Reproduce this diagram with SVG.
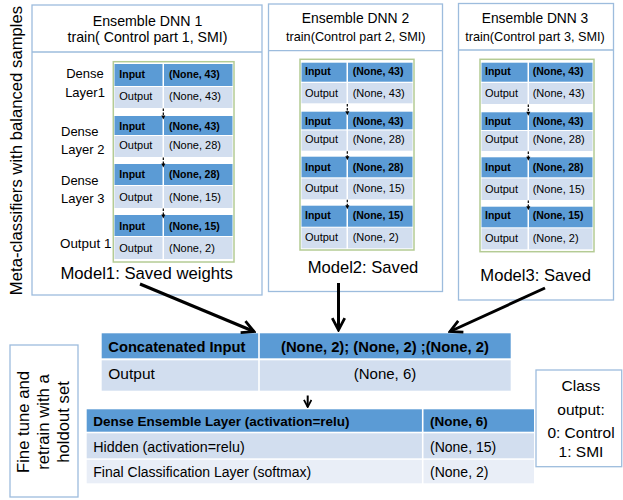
<svg xmlns="http://www.w3.org/2000/svg" width="623" height="500" viewBox="0 0 623 500">
<style>
text{font-family:"Liberation Sans",Arial,sans-serif;fill:#000}
.box{fill:#fff;stroke:#9dbcdd;stroke-width:1.3}
.sep{stroke:#9dbcdd;stroke-width:1.3}
.tb{fill:#fff;stroke:#b4cb94;stroke-width:1.5}
.hi{fill:#5b9bd5}
.lo{fill:#d2deef}
.lo2{fill:#e9eef7}
.sb{font-size:10.5px;font-weight:bold}
.sr{font-size:11px}
.hd{font-size:14.2px;text-anchor:middle}
.hd2{font-size:12.7px;text-anchor:middle}
.lab{font-size:13px}
.mdl{font-size:16.7px;text-anchor:middle}
.vt{font-size:16.7px;text-anchor:middle}
.dash{stroke:#000;stroke-width:1.2;stroke-dasharray:2.5,1.5;fill:none}
.big{stroke:#000;stroke-width:3;fill:none}
</style>
<defs>
<marker id="ah" viewBox="0 0 12 12" refX="10.5" refY="6" markerWidth="15" markerHeight="15" markerUnits="userSpaceOnUse" orient="auto">
<path d="M1,1 L10.5,6 L1,11" fill="none" stroke="#000" stroke-width="2.2"/>
</marker>
<marker id="ahs" viewBox="0 0 12 12" refX="10.5" refY="6" markerWidth="9" markerHeight="9" markerUnits="userSpaceOnUse" orient="auto">
<path d="M1,1 L10.5,6 L1,11" fill="none" stroke="#000" stroke-width="2.4"/>
</marker>
</defs>

<text class="vt" transform="translate(21.5,150.5) rotate(-90)">Meta-classifiers with balanced samples</text>

<g id="dnn1">
<rect class="box" x="32" y="5" width="230" height="290"/>
<line class="sep" x1="32" y1="52" x2="262" y2="52"/>
<text class="hd" x="147.5" y="25.5">Ensemble DNN 1</text>
<text class="hd" x="147.5" y="41.5">train( Control part 1, SMI)</text>
<text class="lab" x="85" y="78" text-anchor="middle">Dense</text>
<text class="lab" x="85" y="97" text-anchor="middle">Layer1</text>
<text class="lab" x="61" y="135.5">Dense</text>
<text class="lab" x="61" y="154">Layer 2</text>
<text class="lab" x="61" y="185">Dense</text>
<text class="lab" x="61" y="203">Layer 3</text>
<text class="lab" x="60" y="247.5" style="font-size:13.4px">Output 1</text>
<rect class="tb" x="113.3" y="61.7" width="120.7" height="200.3"/>
<rect class="hi" x="114.5" y="64" width="48" height="22"/><rect class="hi" x="164" y="64" width="68.5" height="22"/>
<rect class="lo" x="114.5" y="87" width="48" height="21"/><rect class="lo" x="164" y="87" width="68.5" height="21"/>
<rect class="hi" x="114.5" y="116" width="48" height="19"/><rect class="hi" x="164" y="116" width="68.5" height="19"/>
<rect class="lo" x="114.5" y="136" width="48" height="21"/><rect class="lo" x="164" y="136" width="68.5" height="21"/>
<rect class="hi" x="114.5" y="164" width="48" height="21"/><rect class="hi" x="164" y="164" width="68.5" height="21"/>
<rect class="lo" x="114.5" y="186" width="48" height="22"/><rect class="lo" x="164" y="186" width="68.5" height="22"/>
<rect class="hi" x="114.5" y="215" width="48" height="21"/><rect class="hi" x="164" y="215" width="68.5" height="21"/>
<rect class="lo" x="114.5" y="237" width="48" height="22"/><rect class="lo" x="164" y="237" width="68.5" height="22"/>
<text class="sb" x="119.3" y="77.5">Input</text><text class="sb" x="169" y="77.5">(None, 43)</text>
<text class="sr" x="119.3" y="100">Output</text><text class="sr" x="169" y="100">(None, 43)</text>
<text class="sb" x="119.3" y="129.8">Input</text><text class="sb" x="169" y="129.8">(None, 43)</text>
<text class="sr" x="119.3" y="149.3">Output</text><text class="sr" x="169" y="149.3">(None, 28)</text>
<text class="sb" x="119.3" y="177.8">Input</text><text class="sb" x="169" y="177.8">(None, 28)</text>
<text class="sr" x="119.3" y="200.5">Output</text><text class="sr" x="169" y="200.5">(None, 15)</text>
<text class="sb" x="119.3" y="229.5">Input</text><text class="sb" x="169" y="229.5">(None, 15)</text>
<text class="sr" x="119.3" y="252.1">Output</text><text class="sr" x="169" y="252.1">(None, 2)</text>
<text class="mdl" x="146.7" y="279.3">Model1: Saved weights</text>
</g>

<g id="dnn2">
<rect class="box" x="268.5" y="4" width="174" height="287.5"/>
<line class="sep" x1="268.5" y1="50.7" x2="442.5" y2="50.7"/>
<text class="hd" x="355.5" y="23.3" style="font-size:13.9px">Ensemble DNN 2</text>
<text class="hd2" x="355.8" y="40.5">train(Control part 2, SMI)</text>
<rect class="tb" x="300" y="59.3" width="114" height="190.7"/>
<rect class="hi" x="301.5" y="62.7" width="45" height="19"/><rect class="hi" x="348" y="62.7" width="64.5" height="19"/>
<rect class="lo" x="301.5" y="83" width="45" height="20.3"/><rect class="lo" x="348" y="83" width="64.5" height="20.3"/>
<rect class="hi" x="301.5" y="111.7" width="45" height="17.6"/><rect class="hi" x="348" y="111.7" width="64.5" height="17.6"/>
<rect class="lo" x="301.5" y="130.5" width="45" height="20.2"/><rect class="lo" x="348" y="130.5" width="64.5" height="20.2"/>
<rect class="hi" x="301.5" y="156.7" width="45" height="20.6"/><rect class="hi" x="348" y="156.7" width="64.5" height="20.6"/>
<rect class="lo" x="301.5" y="178.5" width="45" height="20.8"/><rect class="lo" x="348" y="178.5" width="64.5" height="20.8"/>
<rect class="hi" x="301.5" y="205.7" width="45" height="21"/><rect class="hi" x="348" y="205.7" width="64.5" height="21"/>
<rect class="lo" x="301.5" y="227.7" width="45" height="20.6"/><rect class="lo" x="348" y="227.7" width="64.5" height="20.6"/>
<text class="sb" x="305" y="74.5">Input</text><text class="sb" x="352.7" y="74.5">(None, 43)</text>
<text class="sr" x="305" y="96.5">Output</text><text class="sr" x="352.7" y="96.5">(None, 43)</text>
<text class="sb" x="305" y="124.5">Input</text><text class="sb" x="352.7" y="124.5">(None, 43)</text>
<text class="sr" x="305" y="143.1">Output</text><text class="sr" x="352.7" y="143.1">(None, 28)</text>
<text class="sb" x="305" y="170.5">Input</text><text class="sb" x="352.7" y="170.5">(None, 28)</text>
<text class="sr" x="305" y="192.1">Output</text><text class="sr" x="352.7" y="192.1">(None, 15)</text>
<text class="sb" x="305" y="218.8">Input</text><text class="sb" x="352.7" y="218.8">(None, 15)</text>
<text class="sr" x="305" y="241.1">Output</text><text class="sr" x="352.7" y="241.1">(None, 2)</text>
<text class="mdl" x="363" y="272.5" style="font-size:16.6px">Model2: Saved</text>
</g>

<g id="dnn3">
<rect class="box" x="458.5" y="3.5" width="155" height="296.5"/>
<line class="sep" x1="458.5" y1="50" x2="613.5" y2="50"/>
<text class="hd" x="535" y="23.3" style="font-size:13.8px">Ensemble DNN 3</text>
<text class="hd2" x="535" y="40.5">train(Control part 3, SMI)</text>
<rect class="tb" x="480" y="59.3" width="114" height="192.4"/>
<rect class="hi" x="481.5" y="62.7" width="46" height="19"/><rect class="hi" x="529" y="62.7" width="63.5" height="19"/>
<rect class="lo" x="481.5" y="83" width="46" height="21"/><rect class="lo" x="529" y="83" width="63.5" height="21"/>
<rect class="hi" x="481.5" y="112.3" width="46" height="17.7"/><rect class="hi" x="529" y="112.3" width="63.5" height="17.7"/>
<rect class="lo" x="481.5" y="131" width="46" height="20"/><rect class="lo" x="529" y="131" width="63.5" height="20"/>
<rect class="hi" x="481.5" y="157.3" width="46" height="20"/><rect class="hi" x="529" y="157.3" width="63.5" height="20"/>
<rect class="lo" x="481.5" y="178.5" width="46" height="21.5"/><rect class="lo" x="529" y="178.5" width="63.5" height="21.5"/>
<rect class="hi" x="481.5" y="206.7" width="46" height="20.6"/><rect class="hi" x="529" y="206.7" width="63.5" height="20.6"/>
<rect class="lo" x="481.5" y="228.3" width="46" height="21"/><rect class="lo" x="529" y="228.3" width="63.5" height="21"/>
<text class="sb" x="485" y="74.5">Input</text><text class="sb" x="532.7" y="74.5">(None, 43)</text>
<text class="sr" x="485" y="96.5">Output</text><text class="sr" x="532.7" y="96.5">(None, 43)</text>
<text class="sb" x="485" y="124.5">Input</text><text class="sb" x="532.7" y="124.5">(None, 43)</text>
<text class="sr" x="485" y="143.1">Output</text><text class="sr" x="532.7" y="143.1">(None, 28)</text>
<text class="sb" x="485" y="170.5">Input</text><text class="sb" x="532.7" y="170.5">(None, 28)</text>
<text class="sr" x="485" y="192.8">Output</text><text class="sr" x="532.7" y="192.8">(None, 15)</text>
<text class="sb" x="485" y="218.8">Input</text><text class="sb" x="532.7" y="218.8">(None, 15)</text>
<text class="sr" x="485" y="241.8">Output</text><text class="sr" x="532.7" y="241.8">(None, 2)</text>
<text class="mdl" x="535.7" y="281" style="font-size:16.6px">Model3: Saved</text>
</g>

<g id="concat">
<rect class="hi" x="101.7" y="333.3" width="156.5" height="25"/>
<rect class="hi" x="259.8" y="333.3" width="250.9" height="25"/>
<rect class="lo" x="101.7" y="360.3" width="156.5" height="30.4"/>
<rect class="lo" x="259.8" y="360.3" width="250.9" height="30.4"/>
<text x="108.3" y="352" style="font-size:14.7px;font-weight:bold">Concatenated Input</text>
<text x="385" y="352" text-anchor="middle" style="font-size:14.8px;font-weight:bold">(None, 2); (None, 2) ;(None, 2)</text>
<text x="108.3" y="378.5" style="font-size:15.5px">Output</text>
<text x="385" y="378.5" text-anchor="middle" style="font-size:15px">(None, 6)</text>
</g>

<g id="dense">
<rect class="hi" x="86.7" y="409.3" width="335.2" height="22.4"/>
<rect class="hi" x="423.5" y="409.3" width="110.5" height="22.4"/>
<rect class="lo" x="86.7" y="433.3" width="335.2" height="25"/>
<rect class="lo" x="423.5" y="433.3" width="110.5" height="25"/>
<rect class="lo2" x="86.7" y="459.8" width="335.2" height="23.5"/>
<rect class="lo2" x="423.5" y="459.8" width="110.5" height="23.5"/>
<text x="93.3" y="426.3" style="font-size:13.5px;font-weight:bold">Dense Ensemble Layer (activation=relu)</text>
<text x="430" y="426.3" style="font-size:13.5px;font-weight:bold">(None, 6)</text>
<text x="93.3" y="451.5" style="font-size:14.3px">Hidden (activation=relu)</text>
<text x="430" y="451.5" style="font-size:14px">(None, 15)</text>
<text x="93.3" y="476.5" style="font-size:14px">Final Classification Layer (softmax)</text>
<text x="430" y="476.5" style="font-size:14px">(None, 2)</text>
</g>

<g id="finetune">
<rect class="box" x="10" y="345" width="68" height="152"/>
<text class="vt" transform="translate(29,422) rotate(-90)">Fine tune and</text>
<text class="vt" transform="translate(49,422) rotate(-90)">retrain with a</text>
<text class="vt" transform="translate(69,422) rotate(-90)">holdout set</text>
</g>

<g id="classout">
<rect class="box" x="536" y="370" width="85.7" height="96.7"/>
<text x="581" y="390.7" text-anchor="middle" style="font-size:15.5px">Class</text>
<text x="581" y="415" text-anchor="middle" style="font-size:15.5px">output:</text>
<text x="581" y="438.3" text-anchor="middle" style="font-size:15.5px">0: Control</text>
<text x="581" y="456.7" text-anchor="middle" style="font-size:15.5px">1: SMI</text>
</g>

<g id="connectors">
<path class="dash" d="M163.3,108.5V116"/><path d="M161.3,115.5H165.3L163.3,119.5Z"/>
<path class="dash" d="M163.3,157.5V164"/><path d="M161.3,163.5H165.3L163.3,167.5Z"/>
<path class="dash" d="M163.3,208.5V215"/><path d="M161.3,214.5H165.3L163.3,218.5Z"/>
<path class="dash" d="M347.3,104V111.7"/><path d="M345.3,111.2H349.3L347.3,115.2Z"/>
<path class="dash" d="M347.3,151.2V156.7"/><path d="M345.3,156.2H349.3L347.3,160.2Z"/>
<path class="dash" d="M347.3,199.8V205.7"/><path d="M345.3,205.2H349.3L347.3,209.2Z"/>
<path class="dash" d="M528.3,104.5V112.3"/><path d="M526.3,111.8H530.3L528.3,115.8Z"/>
<path class="dash" d="M528.3,151.5V157.3"/><path d="M526.3,156.8H530.3L528.3,160.8Z"/>
<path class="dash" d="M528.3,200.5V206.7"/><path d="M526.3,206.2H530.3L528.3,210.2Z"/>
<line class="big" x1="140" y1="284" x2="254" y2="331.5" marker-end="url(#ah)"/>
<line class="big" x1="338.5" y1="283" x2="338.5" y2="330" marker-end="url(#ah)"/>
<line class="big" x1="545" y1="288" x2="450" y2="331.5" marker-end="url(#ah)"/>
<line x1="307.7" y1="395.5" x2="307.7" y2="407" stroke="#000" stroke-width="2" marker-end="url(#ahs)"/>
</g>
</svg>
